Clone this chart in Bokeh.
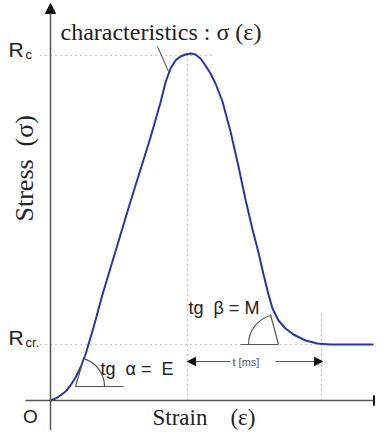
from bokeh.plotting import figure
from bokeh.models import Range1d, Label, Arrow, NormalHead
from bokeh.embed import file_html
from bokeh.resources import INLINE

# ---- data (schematic units: strain eps, stress sigma) ----
strain = [0, 5, 10, 15, 20, 25, 30, 35, 43, 52, 80, 100, 110, 115, 120, 125, 130,
          135, 140, 145, 150, 155, 160, 165, 172, 180, 188, 195, 202, 208, 213,
          218, 222, 228, 235, 243, 255, 267, 280, 323]
stress = [0, 2, 5, 9, 15, 23, 33, 46, 73, 106, 199, 263, 298, 318, 332, 340, 344,
          346, 347, 346, 342, 335, 327, 317, 299, 269, 234, 201, 171, 148, 126,
          106, 92, 80, 72, 66, 60, 57, 56, 56]
Rc = 345
Rcr = 56
eps_peak = 137
eps_t_end = 271
E_slope = 3.4          # tg alpha
alpha_foot = 25
alpha_base = 14
beta_foot = 228
beta_top = (220, 86)

p = figure(width=375, height=430, x_range=Range1d(-50, 325), y_range=Range1d(-30, 400),
           toolbar_location=None, output_backend="svg", min_border=0)
p.axis.visible = False
p.grid.visible = False
p.outline_line_color = None

dot = dict(line_color="#8a8a8a", line_dash="1 4", line_width=1.2)
p.line([-10, 162], [Rc, Rc], **dot)
p.line([-10, eps_t_end], [Rcr, Rcr], **dot)
p.line([eps_peak, eps_peak], [0, 350], **dot)
p.line([eps_t_end, eps_t_end], [0, 88], **dot)

ax_col = "#555555"
head = lambda s: NormalHead(size=s, fill_color="#111111", line_color="#111111")
p.add_layout(Arrow(end=head(10), x_start=0, y_start=-30, x_end=0, y_end=397,
                   line_color=ax_col, line_width=1.5))
p.add_layout(Arrow(end=head(10), x_start=-25, y_start=0, x_end=333, y_end=0,
                   line_color=ax_col, line_width=1.5))

p.line(strain, stress, line_color="#2438ad", line_width=2)

# leader for characteristics label
p.line([107, 118], [354, 329], line_color="#444444", line_width=1)

gcol = "#555555"
p.line([alpha_foot, alpha_foot + 48], [alpha_base, alpha_base], line_color=gcol, line_width=1.2)
p.line([alpha_foot, alpha_foot + 24 / E_slope], [alpha_base, alpha_base + 24], line_color=gcol, line_width=1.2)
p.arc(x=[alpha_foot], y=[alpha_base], radius=29, start_angle=0, end_angle=1.285,
      line_color=gcol, line_width=1.2)

p.line([beta_foot - 38, beta_foot], [Rcr, Rcr], line_color=gcol, line_width=1.2)
p.line([beta_foot, beta_top[0]], [Rcr, beta_top[1]], line_color=gcol, line_width=1.2)
p.arc(x=[beta_foot], y=[Rcr], radius=30, start_angle=1.83, end_angle=3.1416,
      line_color=gcol, line_width=1.2)

# t [ms] double arrow
p.add_layout(Arrow(end=head(8), x_start=150, y_start=39, x_end=eps_peak, y_end=39,
                   line_color=gcol, line_width=1.2))
p.line([eps_peak + 2, 180], [39, 39], line_color=gcol, line_width=1.2)
p.add_layout(Arrow(end=head(8), x_start=225, y_start=39, x_end=eps_t_end + 1, y_end=39,
                   line_color=gcol, line_width=1.2))

tc = "#222222"
NB = "\u00a0"
def lab(x, y, text, size, font="Liberation Sans", align="left", angle=0, color=tc):
    p.add_layout(Label(x=x, y=y, text=text, text_font=font, text_font_size=f"{size}px",
                       text_align=align, text_baseline="middle", angle=angle, text_color=color))

lab(10, 368.7, f"characteristics{NB}:{NB}σ (ε)", 24, font="Liberation Serif")
lab(-42, 350.7, "R", 21)
lab(-25, 346.3, "c", 13)
lab(-42, 62.7, "R", 21)
lab(-25, 58.3, "cr.", 13)
lab(-20, -16, "O", 19, align="center")
lab(102, -16.6, f"Strain{NB}{NB}{NB}{NB}(ε)", 23, font="Liberation Serif")
lab(-26, 179, f"Stress{NB}{NB}(σ)", 26, font="Liberation Serif", angle=1.5708)
lab(50, 31.8, f"tg{NB}{NB}α{NB}={NB}{NB}E", 18)
lab(138, 92.8, f"tg{NB}{NB}β{NB}={NB}M", 18)
lab(182, 39, "t [ms]", 11, color="#555555")

open("out.html", "w").write(file_html(p, INLINE))
